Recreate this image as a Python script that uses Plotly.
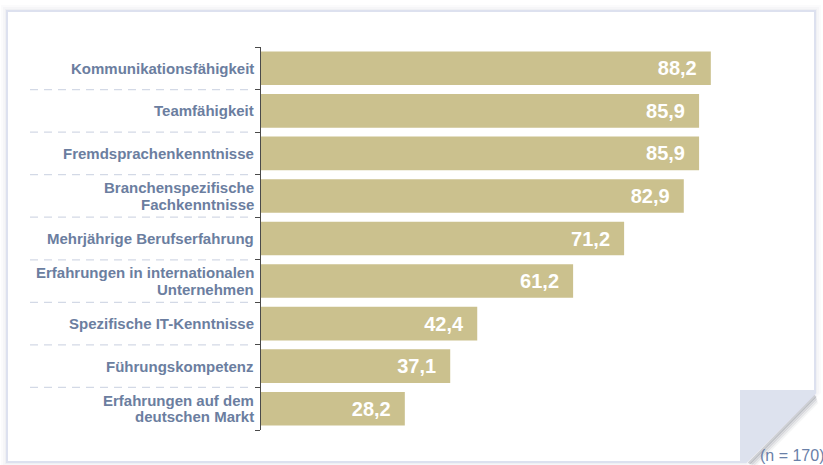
import plotly.graph_objects as go

# Survey results: share of respondents naming each competence (%)
categories = [
    "Kommunikationsfähigkeit",
    "Teamfähigkeit",
    "Fremdsprachenkenntnisse",
    "Branchenspezifische<br>Fachkenntnisse",
    "Mehrjährige Berufserfahrung",
    "Erfahrungen in internationalen<br>Unternehmen",
    "Spezifische IT-Kenntnisse",
    "Führungskompetenz",
    "Erfahrungen auf dem<br>deutschen Markt",
]
values = [88.2, 85.9, 85.9, 82.9, 71.2, 61.2, 42.4, 37.1, 28.2]
sample_note = "(n = 170)"

W, H = 823, 465
ML, MR, MT, MB = 261, 43, 47, 35
PW, PH = W - ML - MR, H - MT - MB

BAR = "#cbc18e"
LABEL = "#6b7ea0"
FONT = "Liberation Sans, Arial, Helvetica, sans-serif"
LINE_GAP = 16.5  # px between the lines of a two-line label


def px(x):
    return (x - ML) / PW


def py(y):
    return 1 - (y - MT) / PH


def path(points):
    pts = [f"{px(x):.5f},{py(y):.5f}" for x, y in points]
    return "M" + " L".join(pts) + " Z"


fig = go.Figure(
    go.Bar(
        x=values,
        y=list(range(len(categories))),
        orientation="h",
        width=0.79,
        marker=dict(color=BAR, line=dict(width=0)),
        texttemplate="%{x:.1f}\u00a0\u00a0",
        textposition="inside",
        insidetextanchor="end",
        textfont=dict(family=FONT, size=20, color="white", weight="bold"),
        hoverinfo="skip",
    )
)

shapes = []

# soft shadow around the sheet
for i, op in enumerate([0.05, 0.04, 0.03]):
    d = 2 + 2 * i
    shapes.append(dict(
        type="path", xref="paper", yref="paper", layer="below",
        path=path([(7 - d, 11 - d), (815 + d, 11 - d), (815 + d, 393), (746, 462 + d), (7 - d, 462 + d)]),
        fillcolor=f"rgba(120,130,160,{op})", line=dict(width=0),
    ))

# white sheet with light border and a curled corner
shapes.append(dict(
    type="path", xref="paper", yref="paper", layer="below",
    path=path([(7, 11), (815, 11), (815, 393), (746, 462), (7, 462)]),
    fillcolor="white", line=dict(color="#dde1ef", width=2),
))

# shadow under the curled corner
for i, op in enumerate([0.26, 0.18, 0.11, 0.06]):
    o = 2 + 2 * i
    shapes.append(dict(
        type="line", xref="paper", yref="paper",
        x0=px(815 + o * 0.3), y0=py(394 + o), x1=px(747 + o), y1=py(463 + o * 0.3),
        line=dict(color=f"rgba(90,95,110,{op})", width=3),
    ))

# folded flap
shapes.append(dict(
    type="path", xref="paper", yref="paper",
    path=path([(740, 390), (815, 390), (815, 393), (746, 462), (740, 462)]),
    fillcolor="#dde2ee", line=dict(width=0),
))

# dashed separators between category labels
for b in range(len(categories) - 1):
    shapes.append(dict(
        type="line", xref="paper", yref="y",
        x0=px(30), x1=px(254), y0=b + 0.5, y1=b + 0.5,
        line=dict(color="#d3d9e6", width=1.2, dash="8px,6px"),
    ))

# category labels, one annotation per text line
annotations = []
for i, label in enumerate(categories):
    lines = label.split("<br>")
    n = len(lines)
    for k, line in enumerate(lines):
        annotations.append(dict(
            text=line, xref="paper", yref="y", x=px(256), y=i,
            xanchor="right", yanchor="middle", showarrow=False,
            yshift=-(k - (n - 1) / 2) * LINE_GAP,
            font=dict(family=FONT, size=15, color=LABEL, weight="bold"),
        ))

annotations.append(dict(
    text=sample_note, xref="paper", yref="paper",
    x=px(758), y=py(455), xanchor="left", yanchor="middle",
    showarrow=False, font=dict(family=FONT, size=16, color="#6a80a8"),
))

fig.update_layout(
    width=W, height=H,
    margin=dict(l=ML, r=MR, t=MT, b=MB, pad=0),
    paper_bgcolor="white",
    plot_bgcolor="rgba(0,0,0,0)",
    separators=",.",
    showlegend=False,
    font=dict(family=FONT),
    shapes=shapes,
    annotations=annotations,
    xaxis=dict(visible=False, range=[0, PW / 5.1], fixedrange=True),
    yaxis=dict(
        range=[len(categories) - 0.5, -0.5],
        tickmode="array",
        tickvals=[i + 0.5 for i in range(-1, len(categories))],
        showticklabels=False,
        showline=True, linecolor="#4a4a4a", linewidth=1.2,
        ticks="outside", ticklen=5, tickcolor="#4a4a4a", tickwidth=1.2,
        showgrid=False, zeroline=False,
    ),
)

fig.write_html("out.html")
